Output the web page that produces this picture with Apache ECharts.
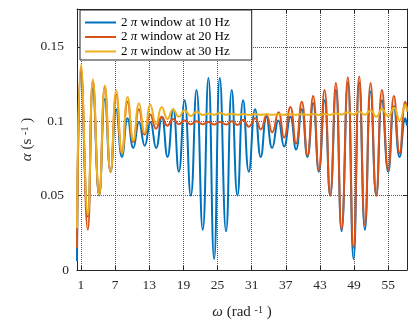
<!DOCTYPE html>
<html><head><meta charset="utf-8">
<script src="https://cdn.jsdelivr.net/npm/echarts@6/dist/echarts.min.js"></script>
<style>html,body{margin:0;padding:0;background:#fff}#c{width:408px;height:325px}</style>
</head><body><div id="c"></div>
<script>
// ω positions (rad^-1) of the read-off extrema
const omega = [0.3, 1.0, 2.2, 3.1, 4.2, 5.2, 6.2, 7.2, 8.2, 9.2, 10.2, 11.2, 12.2, 13.2, 14.2, 15.2, 16.2, 17.2, 18.2, 19.2,
  20.3, 21.3, 22.4, 23.4, 24.4, 25.4, 26.5, 27.5, 28.5, 29.5, 30.5, 31.6, 32.6, 33.6, 34.6, 35.7, 36.7, 37.8, 38.8, 39.8,
  40.8, 41.8, 42.8, 43.8, 44.8, 45.8, 46.8, 47.9, 48.9, 49.9, 50.9, 51.9, 52.9, 53.9, 55.0, 56.0, 57.0, 58.0, 58.3];
const win10 = [0.006, 0.133, 0.036, 0.122, 0.050, 0.115, 0.066, 0.108, 0.076, 0.102, 0.082, 0.0995, 0.0835, 0.0995, 0.082, 0.103, 0.076, 0.108, 0.066, 0.114,
  0.050, 0.121, 0.027, 0.129, 0.0074, 0.129, 0.026, 0.121, 0.050, 0.114, 0.066, 0.108, 0.076, 0.103, 0.082, 0.1005, 0.083, 0.103, 0.081, 0.108,
  0.076, 0.112, 0.066, 0.114, 0.050, 0.121, 0.026, 0.126, 0.0074, 0.126, 0.027, 0.120, 0.050, 0.114, 0.066, 0.110, 0.076, 0.102, 0.097];
const win20 = [0.015, 0.136, 0.027, 0.127, 0.0505, 0.123, 0.066, 0.118, 0.0785, 0.113, 0.086, 0.108, 0.091, 0.1045, 0.095, 0.103, 0.097, 0.1015, 0.098, 0.1005,
  0.098, 0.100, 0.098, 0.0995, 0.0978, 0.0995, 0.0978, 0.100, 0.0974, 0.101, 0.0963, 0.102, 0.0945, 0.104, 0.0925, 0.106, 0.089, 0.1096, 0.085, 0.113,
  0.077, 0.117, 0.067, 0.121, 0.050, 0.1256, 0.0274, 0.1296, 0.015, 0.130, 0.030, 0.1256, 0.050, 0.121, 0.067, 0.117, 0.0785, 0.113, 0.108];
const win30 = [0.028, 0.138, 0.037, 0.128, 0.0507, 0.124, 0.066, 0.1207, 0.0785, 0.1163, 0.087, 0.112, 0.092, 0.111, 0.098, 0.1096, 0.1015, 0.1078, 0.103, 0.1074,
  0.1035, 0.1063, 0.1042, 0.1052, 0.1043, 0.1055, 0.1043, 0.105, 0.1043, 0.1048, 0.1043, 0.1048, 0.1043, 0.1047, 0.1043, 0.1047, 0.1043, 0.1047, 0.1043, 0.1047,
  0.1043, 0.1048, 0.1042, 0.1048, 0.1043, 0.1052, 0.1045, 0.106, 0.1045, 0.1063, 0.1043, 0.1074, 0.103, 0.108, 0.1035, 0.109, 0.1005, 0.111, 0.1065];
const seriesNames = ['2 π window at 10 Hz', '2 π window at 20 Hz', '2 π window at 30 Hz'];
const xTicks = [1, 7, 13, 19, 25, 31, 37, 43, 49, 55];
const yTicks = [0, 0.05, 0.1, 0.15];
const xMin = 0.3, xMax = 58.3, yMin = 0, yMax = 0.1754;

const serif = "'Liberation Serif', 'Times New Roman', serif";
const ink = '#262626';
const colors = ['#0072BD', '#D95319', '#EDB120'];
const values = [win10, win20, win30];
const pairs = ys => omega.map((x, i) => [x, ys[i]]);

const nameRich = {
  i: {fontStyle: 'italic', fontFamily: serif, fontSize: 15, color: ink},
  t: {fontFamily: serif, fontSize: 15, color: ink},
  sup: {fontFamily: serif, fontSize: 10, color: ink, verticalAlign: 'top'}
};

const baseAxisLine = {show: true, onZero: false, lineStyle: {color: ink, width: 1}};
const chart = echarts.init(document.getElementById('c'), null, {renderer: 'canvas'});
chart.setOption({
  animation: false,
  backgroundColor: '#fff',
  textStyle: {fontFamily: serif},
  grid: {left: 77, right: 1, top: 9, bottom: 55, containLabel: false},
  legend: {
    orient: 'vertical', left: 80, top: 10,
    padding: [6, 22, 2, 4], itemGap: 1.5, itemWidth: 31, itemHeight: 14,
    backgroundColor: '#fff', borderColor: ink, borderWidth: 1, borderRadius: 0,
    itemStyle: {opacity: 0},
    lineStyle: {width: 2},
    textStyle: {fontFamily: serif, fontSize: 13, color: '#000',
      rich: {i: {fontStyle: 'italic', fontFamily: serif, fontSize: 13, color: '#000'}}},
    formatter: n => n.replace('π', '{i|π}'),
    data: seriesNames
  },
  xAxis: [{
    type: 'value', min: xMin, max: xMax, position: 'bottom',
    axisLine: baseAxisLine,
    axisTick: {show: true, inside: true, length: 4, customValues: xTicks, lineStyle: {color: ink}},
    axisLabel: {customValues: xTicks, margin: 8, fontSize: 13.5, color: ink, fontFamily: serif},
    splitLine: {show: true, lineStyle: {type: 'dotted', color: '#555', width: 1}},
    name: '{i|ω}{t| (rad }{sup|-1}{t| )}', nameLocation: 'middle', nameGap: 35, nameMoveOverlap: false,
    nameTextStyle: {rich: nameRich}
  }, {
    type: 'value', min: xMin, max: xMax, position: 'top',
    axisLine: baseAxisLine,
    axisTick: {show: true, inside: true, length: 4, customValues: xTicks, lineStyle: {color: ink}},
    axisLabel: {show: false}, splitLine: {show: false}
  }],
  yAxis: [{
    type: 'value', min: yMin, max: yMax, position: 'left',
    axisLine: baseAxisLine,
    axisTick: {show: true, inside: true, length: 4, customValues: yTicks, lineStyle: {color: ink}},
    axisLabel: {customValues: yTicks, margin: 8, color: ink, fontFamily: serif, fontSize: 13.5,
      formatter: v => v === 0 ? '{z|0}' : '{p|' + v + '}',
      rich: {z: {fontFamily: serif, fontSize: 13.5, color: ink},
             p: {fontFamily: serif, fontSize: 13.5, color: ink, padding: [0, 5, 0, 0]}}},
    splitLine: {show: true, lineStyle: {type: 'dotted', color: '#555', width: 1}},
    name: '{i|α}{t| (s }{sup|-1}{t| )}', nameLocation: 'middle', nameGap: 42, nameMoveOverlap: false,
    nameTextStyle: {rich: nameRich}
  }, {
    type: 'value', min: yMin, max: yMax, position: 'right',
    axisLine: baseAxisLine,
    axisTick: {show: true, inside: true, length: 4, customValues: yTicks, lineStyle: {color: ink}},
    axisLabel: {show: false}, splitLine: {show: false}
  }],
  series: seriesNames.map((n, k) => ({
    name: n, type: 'line', xAxisIndex: 0, yAxisIndex: 0,
    data: pairs(values[k]), smooth: 0.5, symbol: 'none', showSymbol: false,
    lineStyle: {width: 2, color: colors[k]}, itemStyle: {color: colors[k]},
    z: 2 + k, clip: true
  }))
});
</script></body></html>
